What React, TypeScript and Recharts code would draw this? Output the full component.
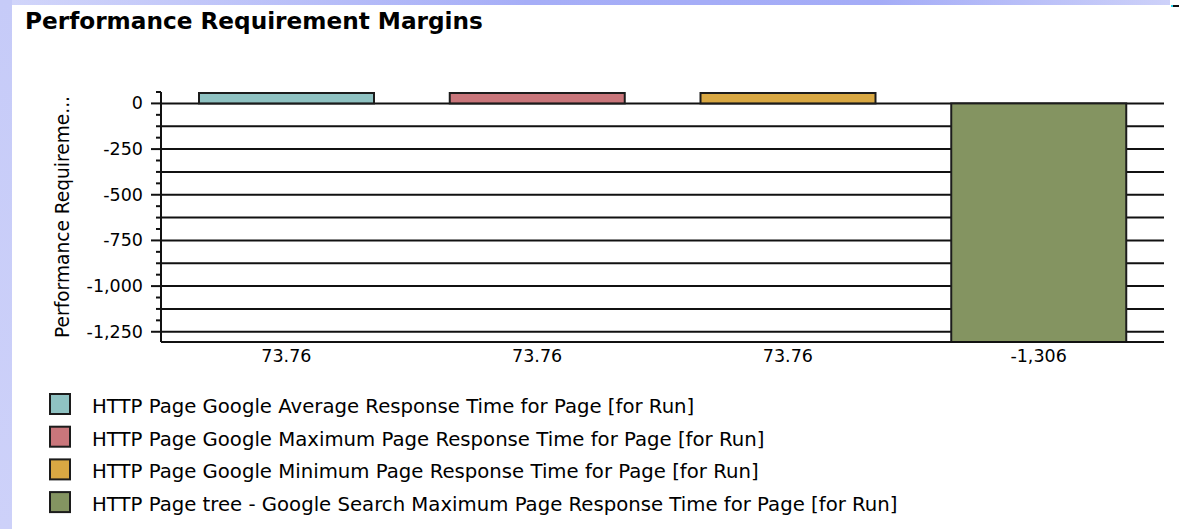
import React from 'react';
import { BarChart, Bar, XAxis, YAxis, CartesianGrid, Cell } from 'recharts';

// Category tick labels under each bar
const categoryLabels = ['73.76', '73.76', '73.76', '-1,306'];

// Counter names shown in the legend (one bar per counter)
const seriesNames = [
  'HTTP Page Google Average Response Time for Page [for Run]',
  'HTTP Page Google Maximum Page Response Time for Page [for Run]',
  'HTTP Page Google Minimum Page Response Time for Page [for Run]',
  'HTTP Page tree - Google Search Maximum Page Response Time for Page [for Run]',
];

// Margin values per counter
const marginValues = [73.76, 73.76, 73.76, -1306];

const barColors = ['#8fc2c2', '#c9767b', '#d9a843', '#849461'];

// Y axis: labelled ticks, small ticks, grid lines
const majorTicks = [0, -250, -500, -750, -1000, -1250];
const axisTicks = [
  62.5, 0, -62.5, -125, -187.5, -250, -312.5, -375, -437.5, -500, -562.5, -625, -687.5,
  -750, -812.5, -875, -937.5, -1000, -1062.5, -1125, -1187.5, -1250,
];
const gridValues = [0, -125, -250, -375, -500, -625, -750, -875, -1000, -1125, -1250];
const yDomain = [-1306, 62.5];

const FONT = '"DejaVu Sans", Verdana, sans-serif';
const INK = '#111';

const data = seriesNames.map((name, i) => ({
  name,
  label: categoryLabels[i],
  value: marginValues[i],
}));

const fmt = (v: number) => v.toLocaleString('en-US');

const YTick = (props: any) => {
  const { x, y, payload } = props;
  const v = payload.value as number;
  const major = majorTicks.includes(v);
  return (
    <g>
      <line x1={x - (major ? 10 : 5)} x2={x} y1={y} y2={y} stroke={INK} strokeWidth={2} />
      {major && (
        <text
          x={x - 18}
          y={y}
          textAnchor="end"
          dominantBaseline="central"
          fontSize={17.5}
          fontFamily={FONT}
          fill="#000"
        >
          {fmt(v)}
        </text>
      )}
    </g>
  );
};

// Bars are kept inside the plot area, with their outline still visible at the edge
const ClampedBar = (props: any) => {
  const { x, y, width, height, fill, background } = props;
  let top = Math.min(y, y + height);
  let bottom = Math.max(y, y + height);
  if (background) {
    top = Math.max(top, background.y + 1);
    bottom = Math.min(bottom, background.y + background.height);
  }
  return (
    <rect
      x={x}
      y={top}
      width={width}
      height={Math.max(0, bottom - top)}
      fill={fill}
      stroke="#1c1c1c"
      strokeWidth={2}
    />
  );
};

const YLabel = (props: any) => {
  const vb = props.viewBox || {};
  const cy = (vb.y || 0) + (vb.height || 0) / 2;
  const cx = 62;
  return (
    <text
      x={cx}
      y={cy}
      transform={`rotate(-90 ${cx} ${cy})`}
      textAnchor="middle"
      dominantBaseline="central"
      fontSize={18.6}
      fontFamily={FONT}
      fill="#000"
    >
      Performance Requireme...
    </text>
  );
};

export default function App() {
  return (
    <div
      style={{
        position: 'absolute',
        left: 0,
        top: 0,
        width: 1179,
        height: 529,
        background: '#fff',
        overflow: 'hidden',
        fontFamily: FONT,
      }}
    >
      <div
        style={{
          position: 'absolute',
          left: 0,
          top: 0,
          width: 1170,
          height: 5,
          background: 'linear-gradient(to right, #d2d6fa, #a6aef7 45%, #a4acf7 75%, #cdd1f9)',
        }}
      />
      <div
        style={{
          position: 'absolute',
          left: 0,
          top: 0,
          width: 12,
          height: 529,
          background: 'linear-gradient(to bottom, #c6cbf8, #cdd1f9)',
        }}
      />
      <div style={{ position: 'absolute', left: 1171, top: 5, width: 2, height: 2, background: '#20d8f0' }} />
      <div style={{ position: 'absolute', left: 1173, top: 5, width: 6, height: 2, background: '#111' }} />

      <div style={{ position: 'absolute', left: 0, top: 0 }}>
        <BarChart
          width={1179}
          height={400}
          data={data}
          margin={{ top: 92, right: 15, left: 0, bottom: 18 }}
        >
          <CartesianGrid
            horizontal
            vertical={false}
            horizontalValues={gridValues}
            stroke={INK}
            strokeWidth={2}
          />
          <XAxis
            dataKey="name"
            height={40}
            tickLine={false}
            tickSize={0}
            tickMargin={8}
            axisLine={{ stroke: INK, strokeWidth: 2 }}
            tickFormatter={(_v: any, i: number) => categoryLabels[i]}
            tick={{ fontSize: 17.5, fontFamily: FONT, fill: '#000' }}
            interval={0}
          />
          <YAxis
            type="number"
            width={161}
            domain={yDomain}
            allowDataOverflow
            ticks={axisTicks}
            interval={0}
            tickLine={false}
            tickSize={0}
            tickMargin={0}
            axisLine={{ stroke: INK, strokeWidth: 2 }}
            tick={<YTick />}
            label={<YLabel />}
          />
          <Bar dataKey="value" barSize={175} isAnimationActive={false} shape={<ClampedBar />}>
            {data.map((_d, i) => (
              <Cell key={i} fill={barColors[i]} />
            ))}
          </Bar>
        </BarChart>
      </div>

      <svg
        width={1179}
        height={529}
        style={{ position: 'absolute', left: 0, top: 0, pointerEvents: 'none' }}
      >
        <text x={25} y={29} fontSize={23.2} fontWeight="bold" fontFamily={FONT} fill="#000">
          Performance Requirement Margins
        </text>
        {seriesNames.map((name, i) => {
          const base = 413 + i * 32.7;
          return (
            <g key={name}>
              <rect
                x={50}
                y={base - 19}
                width={20}
                height={20}
                fill={barColors[i]}
                stroke="#1c1c1c"
                strokeWidth={2}
              />
              <text x={92} y={base} fontSize={19.7} fontFamily={FONT} fill="#000">
                {name}
              </text>
            </g>
          );
        })}
      </svg>
    </div>
  );
}
